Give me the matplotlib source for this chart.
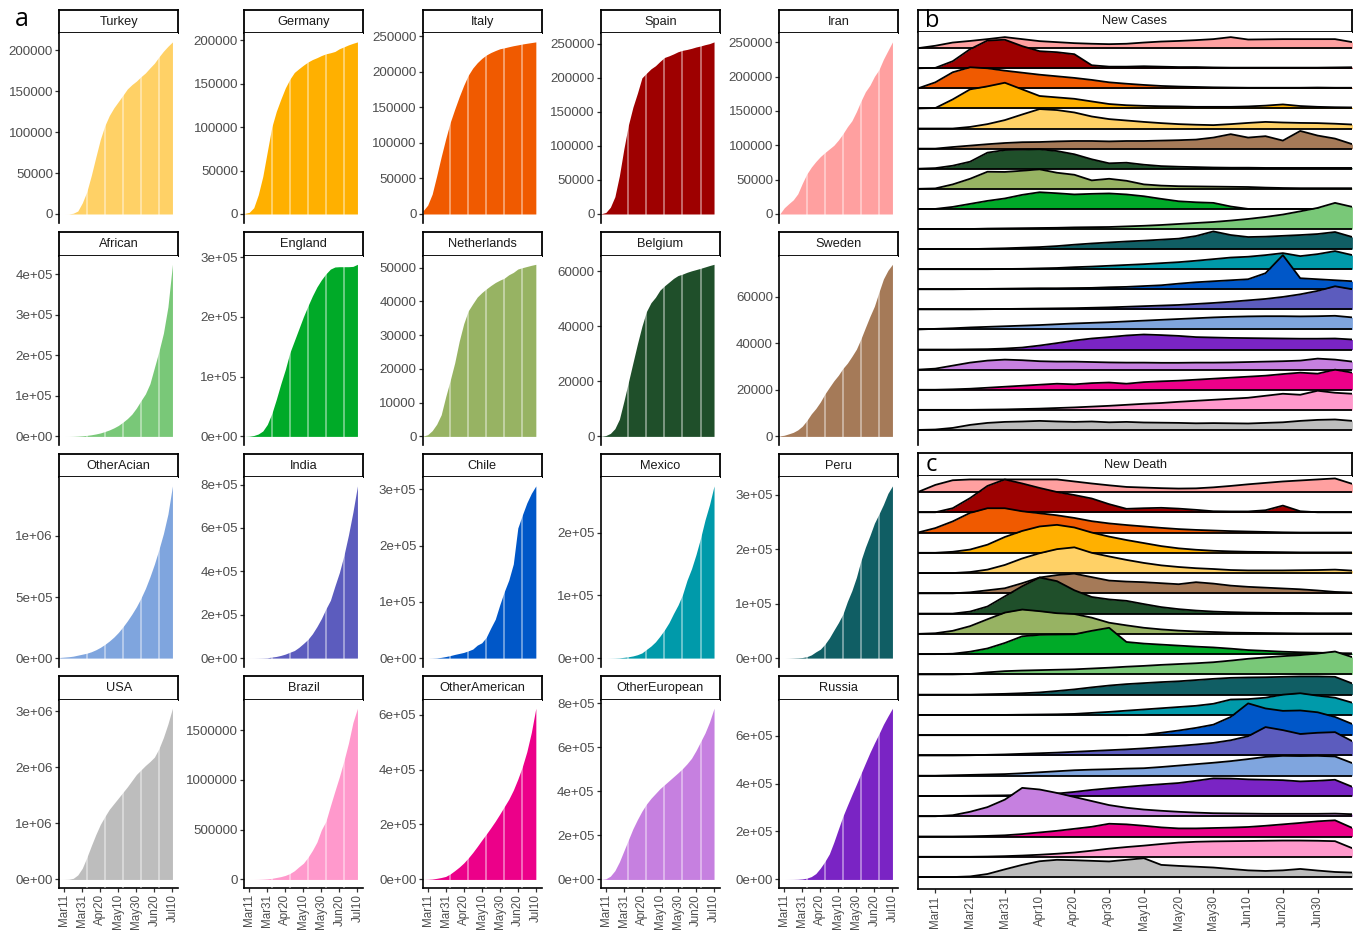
import numpy as np
import matplotlib
matplotlib.use("Agg")
import matplotlib.pyplot as plt

plt.rcParams['font.family'] = ['Liberation Sans', 'DejaVu Sans']

# ---------------- data ----------------
days = list(range(-5, 121, 5))          # days after Mar 11 (cumulative panels)
ridge_days = list(range(-5, 121, 5))    # days after Mar 11 (ridge panels)

cum_Turkey = [0, 1, 47, 947, 3629, 13531, 27069, 47029, 69392, 90980, 107773, 120204, 129491, 137115, 144749, 152587, 157814, 162120, 167410, 172114, 178239, 184031, 191657, 198613, 204610, 209962]
cum_Germany = [670, 1908, 7272, 22213, 43211, 71808, 100123, 118181, 132210, 145184, 155193, 163009, 167300, 171324, 174975, 177827, 179986, 182452, 184472, 185674, 187184, 190359, 192480, 194725, 196554, 198178]
cum_Italy = [4636, 12462, 27980, 53578, 80539, 105792, 128948, 147577, 165155, 181228, 195351, 205463, 213013, 219070, 223885, 227364, 230158, 232664, 234013, 235561, 236989, 238159, 239410, 240436, 241419, 242363]
cum_Spain = [400, 2277, 9942, 25374, 56188, 95923, 130759, 157022, 177633, 200210, 207000, 213435, 218011, 224350, 230183, 232555, 235400, 238564, 240660, 241966, 243605, 245575, 247086, 248970, 250545, 253056]
cum_Iran = [0, 9000, 14991, 20610, 29406, 44605, 58226, 68192, 76389, 83505, 89328, 94640, 99970, 107603, 116635, 126949, 135701, 148950, 164270, 177938, 187427, 200262, 209970, 225205, 237878, 250458]
cum_African = [0, 0, 50, 300, 800, 1500, 2500, 4000, 6000, 8500, 12000, 16000, 21000, 27000, 35000, 44000, 55000, 70000, 88000, 105000, 130000, 170000, 210000, 255000, 320000, 425000]
cum_England = [0, 400, 1500, 4000, 9000, 20000, 38000, 62000, 88000, 112000, 140000, 160000, 180000, 200000, 218000, 235000, 250000, 262000, 272000, 280000, 283500, 284000, 284000, 284000, 284500, 288000]
cum_Netherlands = [100, 500, 1700, 3600, 6400, 11750, 16600, 21800, 28200, 33400, 37200, 39300, 41300, 42600, 43700, 44700, 45600, 46300, 46900, 47900, 48600, 49600, 50000, 50350, 50700, 51000]
cum_Belgium = [50, 314, 1085, 2815, 6235, 12775, 19691, 26667, 33573, 39983, 45325, 48519, 50509, 53081, 54644, 55983, 57342, 58381, 58907, 59569, 60100, 60550, 61007, 61509, 62016, 62469]
cum_Sweden = [200, 500, 1100, 1750, 2800, 4400, 6800, 9700, 12000, 14800, 18200, 21100, 23900, 26300, 29200, 31500, 34400, 37500, 41900, 46800, 51600, 56000, 62000, 67700, 71400, 74000]
cum_OtherAcian = [5000, 8000, 11000, 16000, 24000, 32000, 40000, 52000, 68000, 88000, 112000, 140000, 172000, 210000, 255000, 305000, 360000, 420000, 490000, 570000, 665000, 770000, 890000, 1020000, 1180000, 1410000]
cum_India = [0, 62, 114, 330, 727, 1397, 4778, 7600, 12380, 18539, 26917, 34863, 49400, 67161, 85940, 112028, 144950, 182143, 226770, 266598, 332424, 395048, 473105, 566840, 673165, 793802]
cum_Chile = [0, 23, 155, 434, 1306, 2738, 4471, 6501, 8273, 10088, 12858, 16023, 23048, 27219, 37040, 53617, 69102, 94858, 118292, 138846, 167355, 231393, 254416, 275999, 293000, 306216]
cum_Mexico = [0, 8, 82, 203, 475, 1215, 2143, 3441, 5399, 8261, 13842, 19224, 26025, 35022, 45032, 56594, 71105, 84627, 101238, 124301, 142690, 165455, 191410, 220657, 245251, 275003]
cum_Peru = [0, 11, 86, 318, 580, 1065, 2561, 5897, 11475, 16325, 25331, 36976, 51189, 65015, 80604, 104020, 123979, 148285, 178914, 203736, 225132, 247925, 264689, 282365, 302718, 316448]
cum_USA = [0, 1000, 4000, 20000, 80000, 200000, 390000, 600000, 800000, 980000, 1120000, 1250000, 1350000, 1450000, 1550000, 1650000, 1760000, 1870000, 1950000, 2030000, 2100000, 2180000, 2330000, 2530000, 2770000, 3050000]
cum_Brazil = [0, 34, 234, 904, 2915, 5717, 11130, 19638, 28320, 40743, 59324, 87187, 126611, 162699, 220291, 291579, 374898, 498440, 584016, 739503, 888271, 1032913, 1192474, 1368195, 1577004, 1720000]
cum_OtherAmerican = [0, 500, 1500, 4000, 7000, 11000, 20000, 32000, 45000, 60000, 78000, 98000, 120000, 143000, 165000, 188000, 212000, 238000, 265000, 292000, 325000, 365000, 410000, 465000, 535000, 623000]
cum_OtherEuropean = [0, 3000, 15000, 40000, 80000, 130000, 180000, 230000, 272000, 310000, 342000, 368000, 390000, 412000, 430000, 448000, 466000, 484000, 503000, 525000, 550000, 585000, 625000, 665000, 715000, 777000]
cum_Russia = [0, 20, 93, 306, 840, 2337, 5389, 11917, 24490, 47121, 74588, 106498, 155370, 209688, 262843, 308705, 353427, 396575, 441108, 485253, 528964, 569063, 606881, 646929, 681251, 713936]

panel_names = ["Turkey", "Germany", "Italy", "Spain", "Iran",
               "African", "England", "Netherlands", "Belgium", "Sweden",
               "OtherAcian", "India", "Chile", "Mexico", "Peru",
               "USA", "Brazil", "OtherAmerican", "OtherEuropean", "Russia"]

colors = {"Turkey": "#FFD166", "Germany": "#FFB000", "Italy": "#F05A00", "Spain": "#9E0000",
          "Iran": "#FFA0A0", "African": "#79C878", "England": "#00AA28", "Netherlands": "#97B363",
          "Belgium": "#1F4F2A", "Sweden": "#A57A58", "OtherAcian": "#7FA5DE", "India": "#5C5CBE",
          "Chile": "#0057C8", "Mexico": "#009AAA", "Peru": "#105E64", "USA": "#BDBDBD",
          "Brazil": "#FF99CC", "OtherAmerican": "#EC0089", "OtherEuropean": "#C680E0",
          "Russia": "#7A24C4"}

yticks_Turkey = [0, 50000, 100000, 150000, 200000]
yticks_Germany = [0, 50000, 100000, 150000, 200000]
yticks_Italy = [0, 50000, 100000, 150000, 200000, 250000]
yticks_Spain = [0, 50000, 100000, 150000, 200000, 250000]
yticks_Iran = [0, 50000, 100000, 150000, 200000, 250000]
yticks_African = [0, 1e5, 2e5, 3e5, 4e5]
yticks_England = [0, 1e5, 2e5, 3e5]
yticks_Netherlands = [0, 10000, 20000, 30000, 40000, 50000]
yticks_Belgium = [0, 20000, 40000, 60000]
yticks_Sweden = [0, 20000, 40000, 60000]
yticks_OtherAcian = [0, 5e5, 1e6]
yticks_India = [0, 2e5, 4e5, 6e5, 8e5]
yticks_Chile = [0, 1e5, 2e5, 3e5]
yticks_Mexico = [0, 1e5, 2e5]
yticks_Peru = [0, 1e5, 2e5, 3e5]
yticks_USA = [0, 1e6, 2e6, 3e6]
yticks_Brazil = [0, 500000, 1000000, 1500000]
yticks_OtherAmerican = [0, 2e5, 4e5, 6e5]
yticks_OtherEuropean = [0, 2e5, 4e5, 6e5, 8e5]
yticks_Russia = [0, 2e5, 4e5, 6e5]
sci_panels = ["African", "England", "OtherAcian", "India", "Chile", "Mexico", "Peru",
              "USA", "OtherAmerican", "OtherEuropean", "Russia"]

small_xticks = [0, 20, 40, 60, 80, 100, 120]
small_xlabels = ["Mar11", "Mar31", "Apr20", "May10", "May30", "Jun20", "Jul10"]
stripe_days = [25, 45, 65, 85, 105]

ridge_xticks = [0, 10, 20, 30, 40, 50, 60, 70, 80, 90, 100, 110]
ridge_xlabels = ["Mar11", "Mar21", "Mar31", "Apr10", "Apr20", "Apr30", "May10",
                 "May20", "May30", "Jun10", "Jun20", "Jun30"]
ridge_order = ["Iran", "Spain", "Italy", "Germany", "Turkey", "Sweden", "Belgium",
               "Netherlands", "England", "African", "Peru", "Mexico", "Chile", "India",
               "OtherAcian", "Russia", "OtherEuropean", "OtherAmerican", "Brazil", "USA"]

# New cases density heights (units of ridge spacing)
case_Iran = [0, 0.12, 0.28, 0.36, 0.45, 0.55, 0.45, 0.35, 0.3, 0.25, 0.22, 0.2, 0.22, 0.28, 0.33, 0.36, 0.4, 0.45, 0.55, 0.43, 0.44, 0.45, 0.45, 0.45, 0.45, 0.3]
case_Spain = [0, 0.02, 0.35, 0.95, 1.38, 1.42, 1.1, 0.85, 0.8, 0.7, 0.15, 0.08, 0.08, 0.1, 0.08, 0.06, 0.06, 0.04, 0.03, 0.03, 0.03, 0.03, 0.03, 0.03, 0.04, 0.05]
case_Italy = [0, 0.3, 0.8, 1.05, 1.0, 0.88, 0.78, 0.68, 0.6, 0.52, 0.42, 0.3, 0.23, 0.17, 0.12, 0.09, 0.07, 0.05, 0.04, 0.03, 0.03, 0.03, 0.03, 0.04, 0.03, 0.03]
case_Germany = [0, 0.02, 0.45, 0.95, 1.1, 1.28, 0.95, 0.62, 0.55, 0.48, 0.35, 0.22, 0.16, 0.13, 0.11, 0.1, 0.08, 0.08, 0.08, 0.1, 0.14, 0.2, 0.12, 0.08, 0.06, 0.05]
case_Turkey = [0, 0, 0, 0.08, 0.22, 0.42, 0.7, 0.97, 0.92, 0.8, 0.6, 0.47, 0.4, 0.33, 0.27, 0.22, 0.19, 0.17, 0.22, 0.28, 0.33, 0.3, 0.28, 0.27, 0.24, 0.2]
case_Sweden = [0, 0, 0.08, 0.15, 0.22, 0.28, 0.32, 0.33, 0.36, 0.38, 0.38, 0.36, 0.38, 0.38, 0.4, 0.42, 0.45, 0.55, 0.72, 0.55, 0.62, 0.4, 0.88, 0.65, 0.5, 0.22]
case_Belgium = [0, 0.03, 0.15, 0.35, 0.8, 0.93, 0.95, 0.97, 0.88, 0.72, 0.47, 0.27, 0.3, 0.2, 0.13, 0.1, 0.08, 0.06, 0.05, 0.05, 0.04, 0.04, 0.04, 0.04, 0.04, 0.04]
case_Netherlands = [0, 0.02, 0.22, 0.5, 0.85, 0.84, 0.9, 0.97, 0.8, 0.7, 0.42, 0.5, 0.4, 0.22, 0.16, 0.13, 0.12, 0.11, 0.1, 0.09, 0.06, 0.04, 0.03, 0.03, 0.03, 0.03]
case_England = [0, 0, 0.1, 0.25, 0.4, 0.52, 0.7, 0.83, 0.78, 0.72, 0.75, 0.77, 0.72, 0.63, 0.5, 0.38, 0.33, 0.3, 0.12, 0, 0, 0, 0, 0, 0, 0]
case_African = [0, 0, 0, 0, 0.02, 0.03, 0.04, 0.05, 0.06, 0.08, 0.09, 0.1, 0.13, 0.16, 0.2, 0.25, 0.3, 0.35, 0.42, 0.5, 0.6, 0.72, 0.88, 1.05, 1.3, 1.1]
case_Peru = [0, 0, 0, 0, 0.02, 0.04, 0.07, 0.1, 0.15, 0.22, 0.28, 0.33, 0.38, 0.42, 0.47, 0.52, 0.65, 0.88, 0.7, 0.6, 0.62, 0.66, 0.7, 0.75, 0.85, 0.6]
case_Mexico = [0, 0, 0, 0, 0, 0.01, 0.02, 0.04, 0.06, 0.1, 0.13, 0.17, 0.21, 0.25, 0.3, 0.35, 0.42, 0.5, 0.58, 0.62, 0.7, 0.8, 0.65, 0.75, 0.9, 0.7]
case_Chile = [0, 0, 0, 0.01, 0.02, 0.03, 0.04, 0.05, 0.05, 0.06, 0.07, 0.1, 0.12, 0.16, 0.2, 0.28, 0.35, 0.4, 0.45, 0.5, 0.8, 1.7, 0.55, 0.5, 0.45, 0.4]
case_India = [0, 0, 0, 0, 0.01, 0.02, 0.03, 0.04, 0.05, 0.06, 0.08, 0.1, 0.13, 0.16, 0.19, 0.22, 0.27, 0.32, 0.38, 0.45, 0.52, 0.62, 0.75, 0.92, 1.15, 1.0]
case_OtherAcian = [0, 0.03, 0.06, 0.1, 0.13, 0.16, 0.19, 0.22, 0.26, 0.3, 0.33, 0.36, 0.4, 0.44, 0.48, 0.52, 0.56, 0.6, 0.63, 0.65, 0.66, 0.66, 0.65, 0.66, 0.68, 0.6]
case_Russia = [0, 0, 0, 0.01, 0.02, 0.05, 0.1, 0.2, 0.32, 0.45, 0.55, 0.62, 0.7, 0.75, 0.72, 0.68, 0.62, 0.6, 0.58, 0.57, 0.56, 0.55, 0.54, 0.54, 0.55, 0.5]
case_OtherEuropean = [0, 0.05, 0.2, 0.35, 0.45, 0.5, 0.47, 0.42, 0.4, 0.4, 0.38, 0.36, 0.35, 0.35, 0.34, 0.34, 0.35, 0.35, 0.36, 0.38, 0.4, 0.42, 0.45, 0.55, 0.5, 0.4]
case_OtherAmerican = [0, 0, 0.02, 0.05, 0.1, 0.15, 0.2, 0.25, 0.3, 0.27, 0.33, 0.36, 0.3, 0.38, 0.42, 0.45, 0.5, 0.55, 0.6, 0.65, 0.7, 0.78, 0.85, 0.8, 1.0, 0.85]
case_Brazil = [0, 0, 0, 0, 0.01, 0.02, 0.04, 0.06, 0.09, 0.12, 0.16, 0.2, 0.25, 0.3, 0.34, 0.4, 0.45, 0.5, 0.55, 0.6, 0.7, 0.8, 0.75, 0.95, 0.85, 0.8]
case_USA = [0, 0.02, 0.1, 0.25, 0.35, 0.4, 0.42, 0.45, 0.42, 0.4, 0.42, 0.38, 0.4, 0.37, 0.36, 0.35, 0.33, 0.34, 0.33, 0.32, 0.35, 0.38, 0.45, 0.5, 0.52, 0.45]

# New death density heights (units of ridge spacing)
death_Iran = [0, 0.35, 0.58, 0.62, 0.62, 0.62, 0.62, 0.62, 0.62, 0.52, 0.42, 0.33, 0.25, 0.22, 0.19, 0.17, 0.18, 0.23, 0.3, 0.38, 0.45, 0.52, 0.57, 0.62, 0.67, 0.4]
death_Spain = [0, 0, 0.2, 0.7, 1.3, 1.62, 1.42, 1.2, 1.0, 0.85, 0.68, 0.4, 0.17, 0.2, 0.22, 0.18, 0.12, 0.05, 0.04, 0.04, 0.1, 0.33, 0.05, 0, 0, 0]
death_Italy = [0, 0.22, 0.55, 0.97, 1.2, 1.2, 1.05, 0.95, 0.85, 0.72, 0.56, 0.45, 0.37, 0.3, 0.23, 0.17, 0.13, 0.1, 0.07, 0.05, 0.03, 0.01, 0, 0, 0, 0]
death_Germany = [0, 0, 0.05, 0.16, 0.4, 0.78, 1.08, 1.3, 1.38, 1.25, 1.0, 0.8, 0.63, 0.48, 0.33, 0.22, 0.15, 0.1, 0.07, 0.05, 0.04, 0.03, 0.02, 0.02, 0.02, 0.02]
death_Turkey = [0, 0, 0, 0.05, 0.17, 0.4, 0.72, 0.98, 1.18, 1.27, 1.0, 0.82, 0.65, 0.5, 0.38, 0.3, 0.24, 0.2, 0.15, 0.13, 0.13, 0.13, 0.14, 0.15, 0.17, 0.12]
death_Sweden = [0, 0, 0, 0.05, 0.15, 0.25, 0.5, 0.78, 0.9, 0.97, 0.8, 0.63, 0.58, 0.55, 0.5, 0.45, 0.55, 0.48, 0.38, 0.32, 0.28, 0.24, 0.2, 0.14, 0.07, 0.04]
death_Belgium = [0, 0, 0, 0.1, 0.35, 0.85, 1.35, 1.78, 1.6, 1.15, 0.82, 0.7, 0.63, 0.47, 0.32, 0.22, 0.15, 0.1, 0.07, 0.05, 0.04, 0.03, 0.03, 0.02, 0.02, 0.02]
death_Netherlands = [0, 0.03, 0.15, 0.38, 0.72, 1.05, 1.2, 1.12, 1.02, 0.98, 0.8, 0.55, 0.42, 0.3, 0.22, 0.16, 0.12, 0.09, 0.06, 0.05, 0.04, 0.03, 0.02, 0.02, 0.02, 0.02]
death_England = [0, 0, 0.02, 0.12, 0.28, 0.55, 0.88, 0.95, 0.97, 0.98, 1.15, 1.3, 0.6, 0.52, 0.47, 0.42, 0.37, 0.33, 0.27, 0.2, 0.16, 0.12, 0.09, 0.07, 0.05, 0.04]
death_African = [0, 0, 0, 0.02, 0.1, 0.16, 0.19, 0.21, 0.23, 0.25, 0.29, 0.33, 0.38, 0.42, 0.47, 0.51, 0.55, 0.6, 0.68, 0.77, 0.84, 0.9, 0.95, 1.03, 1.13, 0.85]
death_Peru = [0, 0, 0, 0, 0.02, 0.04, 0.07, 0.11, 0.18, 0.26, 0.36, 0.45, 0.52, 0.57, 0.62, 0.66, 0.72, 0.78, 0.83, 0.85, 0.86, 0.88, 0.9, 0.9, 0.88, 0.55]
death_Mexico = [0, 0, 0, 0, 0, 0, 0.01, 0.02, 0.03, 0.05, 0.1, 0.15, 0.21, 0.27, 0.33, 0.39, 0.45, 0.55, 0.76, 0.78, 0.85, 1.0, 1.07, 0.95, 0.85, 0.6]
death_Chile = [0, 0, 0, 0, 0, 0, 0, 0, 0, 0, 0, 0, 0, 0.02, 0.12, 0.23, 0.36, 0.52, 0.9, 1.57, 1.32, 1.2, 1.22, 1.13, 0.9, 0.55]
death_India = [0, 0, 0, 0.01, 0.03, 0.05, 0.08, 0.11, 0.14, 0.18, 0.22, 0.26, 0.3, 0.35, 0.41, 0.47, 0.54, 0.62, 0.75, 0.95, 1.4, 1.25, 1.06, 1.12, 1.15, 0.7]
death_OtherAcian = [0, 0, 0.02, 0.04, 0.06, 0.08, 0.12, 0.17, 0.22, 0.27, 0.3, 0.32, 0.35, 0.37, 0.43, 0.5, 0.57, 0.64, 0.72, 0.82, 0.93, 0.98, 0.97, 0.98, 0.95, 0.62]
death_Russia = [0, 0, 0, 0.01, 0.02, 0.03, 0.05, 0.08, 0.12, 0.2, 0.3, 0.38, 0.45, 0.52, 0.58, 0.64, 0.75, 0.87, 0.86, 0.82, 0.8, 0.78, 0.72, 0.75, 0.8, 0.45]
death_OtherEuropean = [0, 0, 0.05, 0.22, 0.45, 0.82, 1.4, 1.32, 1.15, 0.95, 0.75, 0.55, 0.42, 0.33, 0.27, 0.22, 0.18, 0.15, 0.14, 0.13, 0.12, 0.12, 0.12, 0.12, 0.13, 0.1]
death_OtherAmerican = [0, 0, 0, 0.01, 0.03, 0.06, 0.12, 0.2, 0.28, 0.38, 0.48, 0.63, 0.6, 0.53, 0.45, 0.4, 0.4, 0.42, 0.44, 0.47, 0.53, 0.6, 0.67, 0.75, 0.8, 0.42]
death_Brazil = [0, 0, 0, 0, 0.01, 0.03, 0.06, 0.1, 0.15, 0.21, 0.3, 0.4, 0.48, 0.55, 0.63, 0.7, 0.74, 0.76, 0.77, 0.78, 0.79, 0.8, 0.8, 0.79, 0.77, 0.42]
death_USA = [0, 0, 0, 0.03, 0.15, 0.38, 0.6, 0.78, 0.85, 0.83, 0.8, 0.77, 0.85, 0.93, 0.6, 0.55, 0.51, 0.47, 0.4, 0.33, 0.3, 0.33, 0.4, 0.32, 0.25, 0.22]

g = globals()
cum = {n: g["cum_" + n] for n in panel_names}
yticks = {n: g["yticks_" + n] for n in panel_names}
cases = {n: g["case_" + n] for n in ridge_order}
deaths = {n: g["death_" + n] for n in ridge_order}

# ---------------- layout ----------------
W, H = 1356, 932
fig = plt.figure(figsize=(W / 100, H / 100), dpi=100)


def px_axes(x0, y0, x1, y1, **kw):
    return fig.add_axes([x0 / W, 1 - y1 / H, (x1 - x0) / W, (y1 - y0) / H], **kw)


def strip(x0, y0, x1, y1, text):
    sa = px_axes(x0, y0, x1, y1)
    sa.set_xticks([]); sa.set_yticks([])
    for s in sa.spines.values():
        s.set_linewidth(1.3); s.set_color("black")
    sa.text(0.5, 0.5, text, ha="center", va="center", fontsize=9.2, color="#1A1A1A",
            transform=sa.transAxes)
    return sa


def fmt_label(v, sci):
    if not sci:
        return "%d" % v
    if v == 0:
        return "0e+00"
    e = int(np.floor(np.log10(v)))
    m = v / 10 ** e
    return "%de+%02d" % (round(m), e)


TICK_COL = "#4D4D4D"
XLAB_SIZE = 8.4
col_x = [59.3, 244.3, 422.7, 600.9, 779.3]
plot_tops = [33.3, 255.7, 477.3, 699.7]
plot_bots = [222.6, 445.0, 666.7, 888.0]
strip_h = 23.4
pw = 119

for i, name in enumerate(panel_names):
    r, c = divmod(i, 5)
    x0 = col_x[c]
    strip(x0, plot_tops[r] - strip_h, x0 + pw, plot_tops[r], name)
    ax = px_axes(x0, plot_tops[r], x0 + pw, plot_bots[r])
    y = np.array(cum[name], dtype=float)
    ymax = y.max()
    ax.fill_between(days, 0, y, color=colors[name], lw=0, zorder=2)
    for d in stripe_days:
        ax.axvline(d, color="white", lw=1.3, alpha=0.45, zorder=3)
    ax.set_xlim(-5.5, 126.5)
    ax.set_ylim(-0.05 * ymax, 1.05 * ymax)
    sci = name in sci_panels
    ax.set_yticks(yticks[name])
    ax.set_yticklabels([fmt_label(v, sci) for v in yticks[name]])
    for s in ["top", "right"]:
        ax.spines[s].set_visible(False)
    ax.spines["left"].set_linewidth(1.2)
    ax.tick_params(axis="y", length=3, width=0.9, color="#333333", labelsize=9.6,
                   labelcolor=TICK_COL, pad=1.5)
    if r == 3:
        ax.spines["bottom"].set_linewidth(1.2)
        ax.set_xticks(small_xticks)
        ax.set_xticklabels(small_xlabels, rotation=90)
        ax.tick_params(axis="x", length=3, width=0.9, color="#333333", labelsize=XLAB_SIZE,
                       labelcolor=TICK_COL, pad=1.5)
    else:
        ax.spines["bottom"].set_visible(False)
        ax.set_xticks([])

fig.text(21.7 / W, 1 - 19 / H, "a", fontsize=18, ha="center", va="center",
         family=["Open Sans", "DejaVu Sans"])

# ---------------- ridge panels ----------------
RX0, RX1 = 918.3, 1351.7


def ridge_panel(y_strip0, y_top, y_bot, ylo, title, letter, series, show_x):
    sa = strip(RX0, y_strip0, RX1, y_top, title)
    sa.text(13.5 / (RX1 - RX0), 0.5, letter, transform=sa.transAxes, fontsize=17,
            ha="center", va="center", family=["Open Sans", "DejaVu Sans"])
    ax = px_axes(RX0, y_top, RX1, y_bot)
    n = len(ridge_order)
    for k, name in enumerate(ridge_order):
        base = n - 1 - k
        h = np.array(series[name], dtype=float)
        ax.fill_between(ridge_days, base, base + h, color=colors[name], lw=0, zorder=3 * k + 1)
        ax.plot(ridge_days, base + h, color="black", lw=1.3, zorder=3 * k + 2,
                solid_joinstyle="round")
        ax.plot([ridge_days[0], ridge_days[-1]], [base, base], color="black", lw=1.3,
                zorder=3 * k + 2)
    ax.set_xlim(-4.9, 119.8)
    ax.set_ylim(ylo, 19.79)
    for s in ["top", "right"]:
        ax.spines[s].set_visible(False)
    ax.spines["left"].set_linewidth(1.2)
    ax.set_yticks([])
    if show_x:
        ax.spines["bottom"].set_linewidth(1.2)
        ax.set_xticks(ridge_xticks)
        ax.set_xticklabels(ridge_xlabels, rotation=90)
        ax.tick_params(axis="x", length=3, width=0.9, color="#333333", labelsize=XLAB_SIZE,
                       labelcolor=TICK_COL, pad=1.5)
    else:
        ax.spines["bottom"].set_visible(False)
        ax.set_xticks([])
    return ax


ridge_panel(10.0, 32.3, 445.0, -0.75, "New Cases", "b", cases, False)
ridge_panel(453.3, 476.0, 889.0, -0.59, "New Death", "c", deaths, True)

fig.savefig("out.png", dpi=100, facecolor="white")
